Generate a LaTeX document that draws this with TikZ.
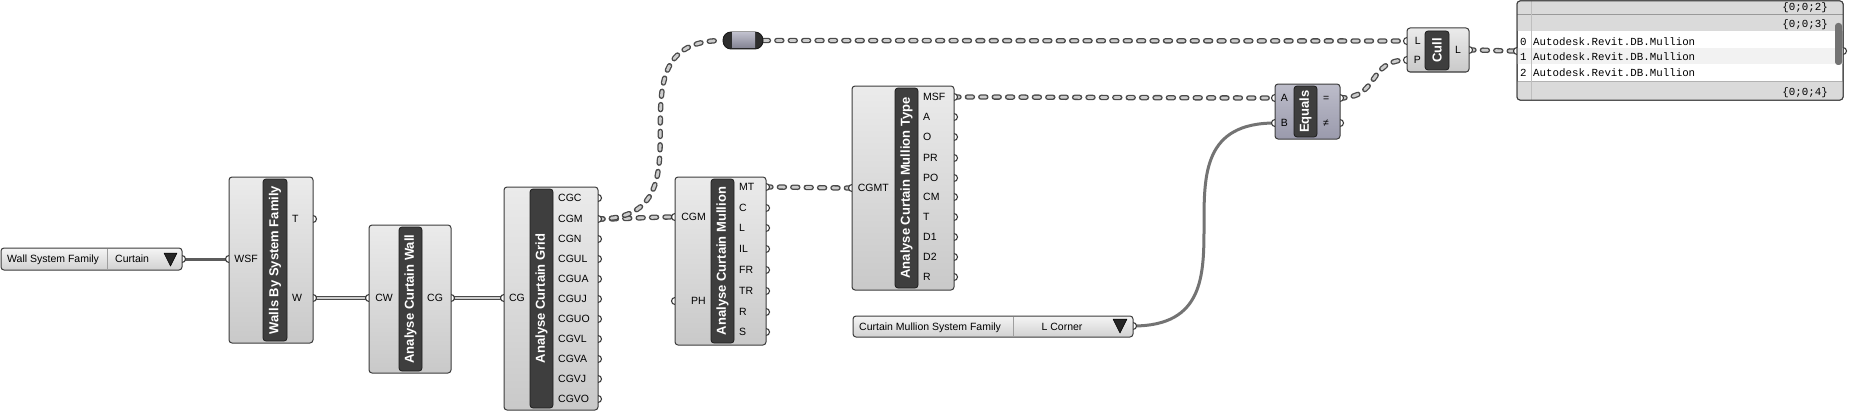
\documentclass[tikz,border=0pt]{standalone}
\usepackage{fontspec}
\setmainfont{Liberation Sans}
\newfontfamily\ghmono{Liberation Mono}
\pgfdeclarelayer{bg}
\pgfdeclarelayer{wires}
\pgfdeclarelayer{ports}
\pgfsetlayers{bg,wires,ports,main}
\definecolor{ghline}{HTML}{3C3C3C}
\definecolor{ghtop}{HTML}{EBEBEB}
\definecolor{ghbot}{HTML}{C9C9C9}
\definecolor{eqtop}{HTML}{BDBDCA}
\definecolor{eqbot}{HTML}{9A9AAC}
\definecolor{barfill}{HTML}{3E3E3E}
\definecolor{bardraw}{HTML}{1C1C1C}
\definecolor{wiredark}{HTML}{4A4A4A}
\definecolor{wirelight}{HTML}{CDCDCD}
\definecolor{itemgray}{HTML}{5C5C5C}
\definecolor{rowgray}{HTML}{DADADA}
\definecolor{rowalt}{HTML}{F2F2F2}
\definecolor{gridline}{HTML}{BEBEBE}
\tikzset{
  ghbody/.style={draw=ghline, line width=1pt, rounded corners=3pt, top color=ghtop, bottom color=ghbot, inner sep=0pt},
  ghblue/.style={ghbody, top color=eqtop, bottom color=eqbot},
  vlist/.style={draw=ghline, line width=1pt, rounded corners=3pt, top color=white!96!black, bottom color=white!82!black, inner sep=0pt},
  ghbarst/.style={draw=bardraw, line width=0.8pt, rounded corners=3pt, fill=barfill, text=white, font=\bfseries\fontsize{13}{13}\selectfont, inner sep=0pt, rotate=90},
  port/.style={circle, draw=ghline, line width=1.1pt, fill=white, minimum size=7pt, inner sep=0pt},
  plabel/.style={font=\fontsize{10.5}{12}\selectfont, inner sep=0pt, text height=7.6pt, text depth=0pt},
  mlabel/.style={font=\ghmono\fontsize{10.8}{12}\selectfont, inner sep=0pt, text height=7pt, text depth=0pt},
  treewire/.style={draw=wiredark, line width=5.4pt, line cap=round, dash pattern=on 5pt off 8.4pt,
    postaction={draw=wirelight, line width=2.8pt, line cap=round, dash pattern=on 5pt off 8.4pt}},
  listwire/.style={draw=wiredark, line width=1.3pt, double=wirelight, double distance=1.6pt},
  itemwire/.style={draw=itemgray, line width=3pt},
  divline/.style={draw=black!38, line width=0.8pt},
  tri/.style={fill=black!85, draw=black, line width=0.5pt, line join=round},
}
\newcommand\ghin[5]{%
  \begin{pgfonlayer}{ports}\node[port] (#1) at (#2,#3) {};\end{pgfonlayer}
  \node[plabel, anchor=east] (#1-t) at (#4,#3) {#5};}
\newcommand\ghout[5]{%
  \begin{pgfonlayer}{ports}\node[port] (#1) at (#2,#3) {};\end{pgfonlayer}
  \node[plabel, anchor=west] (#1-t) at (#4,#3) {#5};}
\newcommand\ghport[3]{%
  \begin{pgfonlayer}{ports}\node[port] (#1) at (#2,#3) {};\end{pgfonlayer}}
\newcommand\ghbox[6]{%
  \node[#2, minimum width={#5-#3}, minimum height={#6-#4}] (#1) at ({(#3+#5)/2},{(#4+#6)/2}) {};}
\newcommand\ghbar[6]{%
  \node[ghbarst, minimum width={#5-#3}, minimum height={#4-#2}] (#1) at ({(#2+#4)/2},{(#3+#5)/2}) {#6};}

\begin{document}
\begin{tikzpicture}[x=1pt, y=-1pt]
\useasboundingbox (0,0) rectangle (1849,412);
\begin{pgfonlayer}{bg}\fill[white] (0,0) rectangle (1849,412);\end{pgfonlayer}

% ---------- Wall System Family value list
\ghport{wsflist-out}{182}{259}
\ghbox{wsflist}{vlist}{1}{248}{182}{270}
\draw[divline] (107,249) -- (107,269);
\node[plabel, anchor=west] (wsflist-t) at (7,259) {Wall System Family};
\node[plabel, anchor=west] (wsflist-v) at (115,259) {Curtain};
\fill[tri] (164,253) -- (177,253) -- (170.5,266) -- cycle;

% ---------- Walls By System Family
\ghbox{walls}{ghbody}{229}{177}{313}{343}
\ghbar{walls-bar}{263}{179}{287}{341}{Walls By System Family}
\ghin{walls-wsf}{229}{259}{258}{WSF}
\ghout{walls-t}{313}{219}{292}{T}
\ghout{walls-w}{313}{298}{292}{W}

% ---------- Analyse Curtain Wall
\ghbox{acw}{ghbody}{369}{225}{451}{373}
\ghbar{acw-bar}{399}{227}{422}{371}{Analyse Curtain Wall}
\ghin{acw-cw}{369}{298}{393}{CW}
\ghout{acw-cg}{451}{298}{427}{CG}

% ---------- Analyse Curtain Grid
\ghbox{acg}{ghbody}{504}{187}{598}{410}
\ghbar{acg-bar}{530}{189}{553}{408}{Analyse Curtain Grid}
\ghin{acg-cg}{504}{298}{525}{CG}
\ghout{acg-cgc}{598}{198}{558}{CGC}
\ghout{acg-cgm}{598}{219}{558}{CGM}
\ghout{acg-cgn}{598}{239}{558}{CGN}
\ghout{acg-cgul}{598}{259}{558}{CGUL}
\ghout{acg-cgua}{598}{279}{558}{CGUA}
\ghout{acg-cguj}{598}{299}{558}{CGUJ}
\ghout{acg-cguo}{598}{319}{558}{CGUO}
\ghout{acg-cgvl}{598}{339}{558}{CGVL}
\ghout{acg-cgva}{598}{359}{558}{CGVA}
\ghout{acg-cgvj}{598}{379}{558}{CGVJ}
\ghout{acg-cgvo}{598}{399}{558}{CGVO}

% ---------- Analyse Curtain Mullion
\ghbox{acm}{ghbody}{675}{177}{766}{345}
\ghbar{acm-bar}{711}{179}{734}{343}{Analyse Curtain Mullion}
\ghin{acm-cgm}{675}{217}{706}{CGM}
\ghin{acm-ph}{675}{301}{706}{PH}
\ghout{acm-mt}{766}{187}{739}{MT}
\ghout{acm-c}{766}{208}{739}{C}
\ghout{acm-l}{766}{228}{739}{L}
\ghout{acm-il}{766}{249}{739}{IL}
\ghout{acm-fr}{766}{270}{739}{FR}
\ghout{acm-tr}{766}{291}{739}{TR}
\ghout{acm-r}{766}{312}{739}{R}
\ghout{acm-s}{766}{332}{739}{S}

% ---------- Analyse Curtain Mullion Type
\ghbox{acmt}{ghbody}{852}{86}{954}{290}
\ghbar{acmt-bar}{895}{88}{918}{288}{Analyse Curtain Mullion Type}
\ghin{acmt-cgmt}{852}{188}{889}{CGMT}
\ghout{acmt-msf}{954}{97}{923}{MSF}
\ghout{acmt-a}{954}{117}{923}{A}
\ghout{acmt-o}{954}{137}{923}{O}
\ghout{acmt-pr}{954}{158}{923}{PR}
\ghout{acmt-po}{954}{178}{923}{PO}
\ghout{acmt-cm}{954}{197}{923}{CM}
\ghout{acmt-t}{954}{217}{923}{T}
\ghout{acmt-d1}{954}{237}{923}{D1}
\ghout{acmt-d2}{954}{257}{923}{D2}
\ghout{acmt-r}{954}{277}{923}{R}

% ---------- Curtain Mullion System Family value list
\ghport{cmsflist-out}{1133}{326}
\ghbox{cmsflist}{vlist}{853}{316}{1133}{337}
\draw[divline] (1013,317) -- (1013,336);
\node[plabel, anchor=west] (cmsflist-t) at (859,326.5) {Curtain Mullion System Family};
\node[plabel] (cmsflist-v) at (1062,326.5) {L Corner};
\fill[tri] (1113,319) -- (1127,319) -- (1120,333) -- cycle;

% ---------- Equals
\ghbox{eq}{ghblue}{1275}{84}{1340}{139}
\ghbar{eq-bar}{1294}{86}{1317}{137}{Equals}
\ghin{eq-a}{1275}{98}{1288}{A}
\ghin{eq-b}{1275}{123}{1288}{B}
\ghout{eq-eq}{1340}{98}{1323}{=}
\ghout{eq-ne}{1340}{123}{1323}{≠}

% ---------- Cull
\ghbox{cull}{ghbody}{1407}{28}{1469}{72}
\ghbar{cull-bar}{1425}{31}{1449}{70}{Cull}
\ghin{cull-l}{1407}{41}{1421}{L}
\ghin{cull-p}{1407}{60}{1421}{P}
\ghout{cull-lo}{1469}{50}{1455}{L}

% ---------- Relay
\node[draw=black!90, line width=0.9pt, fill=black!82, rounded corners=8pt, minimum width=40pt, minimum height=17pt, inner sep=0pt] (relay) at (743,40.5) {};
\fill[top color=eqtop, bottom color=eqbot!85!black] (732,33) rectangle (755,48);

% ---------- Panel
\ghport{panel-in}{1517}{51}
\ghport{panel-out}{1843}{51}
\node[draw=ghline, line width=1pt, fill=white, rounded corners=3pt, minimum width=326pt, minimum height=99pt, inner sep=0pt] (panel) at (1680,50.5) {};
\begin{scope}
  \clip[rounded corners=3pt] (1517,1) rectangle (1843,100);
  \fill[rowgray] (1517,1) rectangle (1843,31);
  \fill[rowalt] (1517,48) rectangle (1843,64);
  \fill[rowgray] (1517,81) rectangle (1843,100);
  \draw[black!40, line width=0.8pt] (1517,14.5) -- (1843,14.5);
  \draw[black!30, line width=0.6pt] (1517,81) -- (1843,81);
  \draw[gridline, line width=0.6pt] (1531,1) -- (1531,100);
\end{scope}
\draw[ghline, line width=1pt, rounded corners=3pt] (1517,1) rectangle (1843,100);
\fill[black!55, rounded corners=3pt] (1835,23) rectangle (1842,65);
\node[mlabel, anchor=east] (hdr2) at (1828,7.5) {\{0;0;2\}};
\node[mlabel, anchor=east] (hdr3) at (1828,24.5) {\{0;0;3\}};
\node[mlabel, anchor=east] (hdr4) at (1828,91.5) {\{0;0;4\}};
\node[mlabel, anchor=west] (i0) at (1520,42) {0};
\node[mlabel, anchor=west] (i1) at (1520,57.5) {1};
\node[mlabel, anchor=west] (i2) at (1520,73) {2};
\node[mlabel, anchor=west] (v0) at (1533,42) {Autodesk.Revit.DB.Mullion};
\node[mlabel, anchor=west] (v1) at (1533,57.5) {Autodesk.Revit.DB.Mullion};
\node[mlabel, anchor=west] (v2) at (1533,73) {Autodesk.Revit.DB.Mullion};

% ---------- Wires
\begin{pgfonlayer}{wires}
\draw[itemwire] (wsflist-out.center) -- (walls-wsf.center);
\draw[listwire] (walls-w.center) -- (acw-cw.center);
\draw[listwire] (acw-cg.center) -- (acg-cg.center);
\draw[treewire] (acg-cgm.center) .. controls +(30,0) and +(-30,0) .. (acm-cgm.center);
\draw[treewire] (acg-cgm.center) .. controls +(124,0) and +(-124,0) .. (relay.west);
\draw[treewire] (relay.east) -- (cull-l.center);
\draw[treewire] (acm-mt.center) .. controls +(30,0) and +(-30,0) .. (acmt-cgmt.center);
\draw[treewire] (acmt-msf.center) .. controls +(80,0) and +(-80,0) .. (eq-a.center);
\draw[itemwire, draw=black!55] (cmsflist-out.center) .. controls +(142,0) and +(-142,0) .. (eq-b.center);
\draw[treewire] (eq-eq.center) .. controls +(40,0) and +(-40,0) .. (cull-p.center);
\draw[treewire] (cull-lo.center) .. controls +(20,0) and +(-20,0) .. (panel-in.center);
\end{pgfonlayer}
\end{tikzpicture}
\end{document}
